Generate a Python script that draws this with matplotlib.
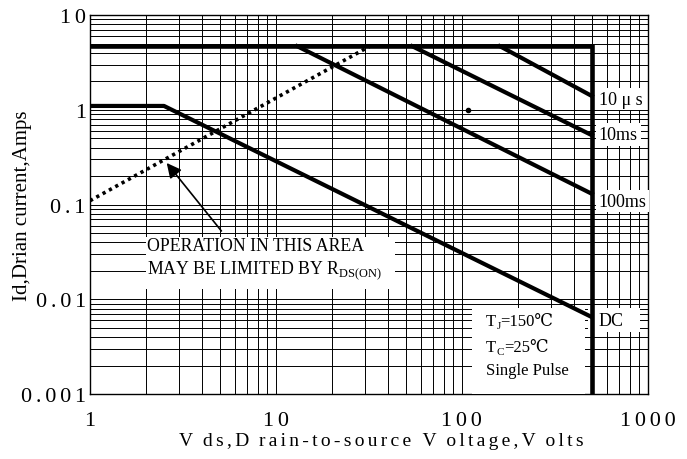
import matplotlib.pyplot as plt
from matplotlib.patches import Rectangle

plt.rcParams['font.family'] = ['Liberation Serif', 'DejaVu Serif', 'DejaVu Sans']
plt.rcParams['mathtext.fontset'] = 'custom'
plt.rcParams['mathtext.rm'] = 'Liberation Serif'

# SOA boundaries (Vds in V, Id in A)
limit_v = [1, 500, 500]
limit_i = [4.7, 4.7, 0.001]
dc_v = [1, 2.5, 500]
dc_i = [1.1, 1.1, 0.0065]
ms100_v = [13, 500]
ms100_i = [4.7, 0.13]
ms10_v = [54, 500]
ms10_i = [4.7, 0.54]
us10_v = [160, 500]
us10_i = [4.7, 1.4]
rds_v = [1, 32]
rds_i = [0.11, 4.7]

x_ticks = [1, 10, 100, 1000]
x_ticklabels = ['1', '10', '100', '1000']
y_ticks = [0.001, 0.01, 0.1, 1, 10]
y_ticklabels = ['0.001', '0.01', '0.1', '1', '10']


def spaced(s, gap='\u2006'):
    # the original drawing uses letter-spaced text
    return gap.join(s)


def chain(ax, x, y, parts, renderer):
    # draw pieces of text one after another (for subscripts)
    off = 0.0
    for txt, size, dy in parts:
        t = ax.annotate(txt, xy=(x, y), xytext=(off, dy),
                        textcoords='offset points', fontsize=size,
                        va='center', ha='left', zorder=5)
        off += t.get_window_extent(renderer).width * 72 / ax.figure.dpi


fig = plt.figure(figsize=(6.87, 4.6), dpi=100)
ax = fig.add_axes([0.131, 0.141, 0.812, 0.824])
ax.set_xscale('log')
ax.set_yscale('log')
ax.set_xlim(1, 1000)
ax.set_ylim(0.001, 10)
ax.grid(True, which='both', color='black', lw=0.7)
ax.set_axisbelow(True)
ax.tick_params(which='both', length=0, labelsize=16)
ax.tick_params(axis='x', pad=12)
ax.tick_params(axis='y', pad=3)
ax.set_xticks(x_ticks)
ax.set_xticklabels([spaced(s) for s in x_ticklabels])
ax.set_yticks(y_ticks)
ax.set_yticklabels([spaced(s) for s in y_ticklabels])
ax.minorticks_on()
ax.tick_params(which='minor', labelleft=False, labelbottom=False)

lw = 3.0
ax.plot(limit_v, limit_i, color='black', lw=3.3, solid_joinstyle='miter', zorder=4)
ax.plot(dc_v, dc_i, color='black', lw=lw, solid_capstyle='round', zorder=4)
ax.plot(ms100_v, ms100_i, color='black', lw=lw, zorder=4)
ax.plot(ms10_v, ms10_i, color='black', lw=lw, zorder=4)
ax.plot(us10_v, us10_i, color='black', lw=lw, zorder=4)
ax.plot(rds_v, rds_i, color='black', lw=2.6, linestyle=(0, (0.9, 1.1)), zorder=4)
ax.plot([108], [1.0], 'o', color='black', ms=3, zorder=4)

box = dict(facecolor='white', edgecolor='none', pad=2)
ax.text(545, 1.3, '10 μ s', fontsize=13, va='center', ha='left', bbox=box, zorder=3)
ax.text(545, 0.55, '10ms', fontsize=13, va='center', ha='left', bbox=box, zorder=3)
ax.text(545, 0.109, '100ms', fontsize=13, va='center', ha='left', bbox=box, zorder=3)

# white panels hiding the grid
ax.add_patch(Rectangle((476, 0.0045), 906 - 476, 0.0081 - 0.0045,
                       facecolor='white', edgecolor='none', zorder=3))
ax.text(545, 0.006, 'DC', fontsize=13, va='center', ha='left', zorder=5)

ax.add_patch(Rectangle((2.0, 0.0128), 43.6 - 2.0, 0.0454 - 0.0128,
                       facecolor='white', edgecolor='none', zorder=3))
ax.text(2.02, 0.046,
        'OPERATION IN THIS AREA\nMAY BE LIMITED BY R$_{\\mathrm{DS(ON)}}$',
        fontsize=12.8, va='top', ha='left', linespacing=1.3, zorder=5)
ax.annotate('', xy=(2.53, 0.29), xytext=(5.2, 0.05),
            arrowprops=dict(arrowstyle='-|>', color='black', lw=1.2,
                            mutation_scale=22), zorder=5)

ax.add_patch(Rectangle((113, 0.001), 458 - 113, 0.0081 - 0.001,
                       facecolor='white', edgecolor='none', zorder=3))
fig.canvas.draw()
renderer = fig.canvas.get_renderer()
chain(ax, 135, 0.0059, [('T', 12, 0), ('J', 8, -3), ('=150℃', 12, 0)], renderer)
chain(ax, 135, 0.00315, [('T', 12, 0), ('C', 8, -3), ('=25℃', 12, 0)], renderer)
ax.text(135, 0.00178, 'Single Pulse', fontsize=12, va='center', ha='left', zorder=5)

xlabel = spaced('Vds,Drain-to-source Voltage,Volts', '\u2006')
xlabel = xlabel.replace('V\u2006', 'V\u2005\u2005').replace('D\u2006', 'D\u2005\u2005')
ax.set_ylabel('Id,Drian current,Amps', fontsize=15)
ax.yaxis.set_label_coords(-0.104, 0.5)
ax.set_xlabel(xlabel, fontsize=14)
ax.xaxis.set_label_coords(0.522, -0.1)

for s in ax.spines.values():
    s.set_color('black')
    s.set_linewidth(1.0)

fig.savefig('out.png', dpi=100)
